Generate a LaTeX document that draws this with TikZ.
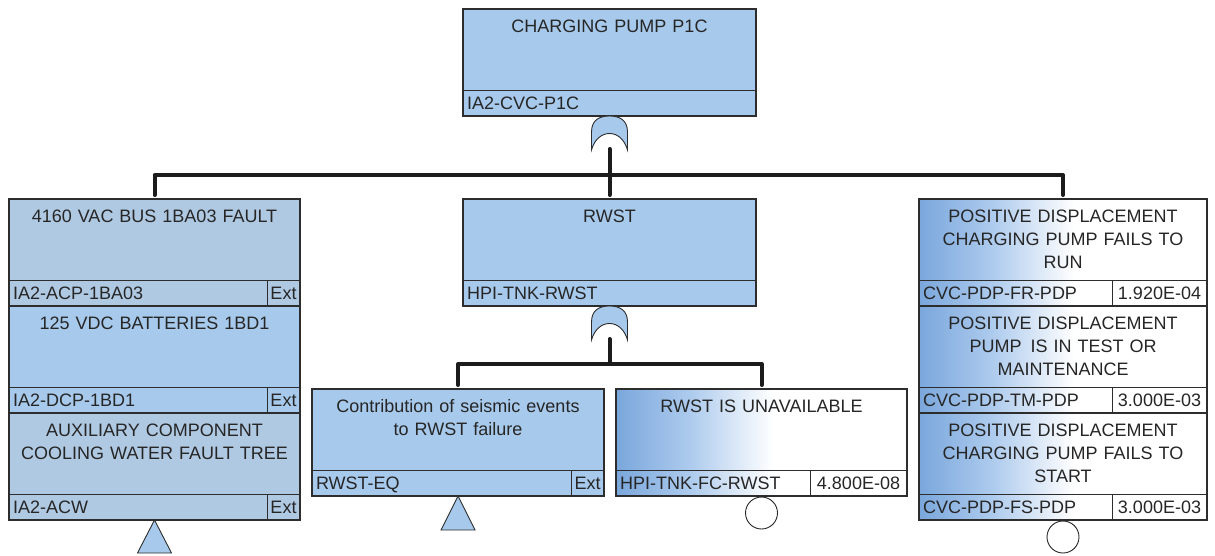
\documentclass[tikz,border=0pt]{standalone}
\usepackage{fontspec}
\setmainfont{Liberation Sans}
\usetikzlibrary{calc}
\definecolor{gbA}{RGB}{167,201,235}
\definecolor{gbB}{RGB}{176,201,227}
\definecolor{evblue}{RGB}{122,167,220}
\definecolor{evmid}{RGB}{172,202,237}
\definecolor{ink}{RGB}{38,38,38}
\definecolor{edge}{RGB}{45,45,45}
\definecolor{connc}{RGB}{28,28,28}
\pgfdeclarehorizontalshading{evshade}{100bp}{color(0bp)=(evblue); color(25bp)=(evblue); color(37.5bp)=(evmid); color(52bp)=(white); color(100bp)=(white)}
\newcommand\FTbox[9]{%
  \node[boxshape,#5,minimum width=#4pt,anchor=north west] (#1) at (#2,#3) {};
  \draw[divline] ([yshift=26pt]#1.south west) -- ([yshift=26pt]#1.south east);
  \draw[divline] ([xshift=-#9pt]#1.south east) -- ([xshift=-#9pt,yshift=26pt]#1.south east);
  \node[ftext,text width=#4pt,anchor=north] (#1-t) at ([yshift=-10.5pt]#1.north) {#6};
  \node[ftext,anchor=base west] (#1-i) at ([xshift=4pt,yshift=6.7pt]#1.south west) {#7};
  \node[ftext,anchor=base] (#1-v) at ([xshift=-#9pt/2,yshift=6.7pt]#1.south east) {#8};
}
\newcommand\ORgate[3]{%
  \filldraw[gatest] (#2-18,#3+34) -- (#2-18,#3+16) .. controls (#2-18,#3+4) and (#2-10,#3) .. (#2,#3)
    .. controls (#2+10,#3) and (#2+18,#3+4) .. (#2+18,#3+16) -- (#2+18,#3+34)
    .. controls (#2+12,#3+12) and (#2-12,#3+12) .. cycle;
  \coordinate (#1) at (#2,#3+33);
}
\begin{document}
\begin{tikzpicture}[x=1pt,y=-1pt,
  boxshape/.style={draw=edge,line width=1.3pt,rectangle,inner sep=0pt,outer sep=0pt,minimum height=107pt},
  divline/.style={draw=edge,line width=0.9pt},
  ftext/.style={inner sep=0pt,outer sep=0pt,align=center,text=ink,font=\fontsize{18pt}{23pt}\selectfont},
  gfillA/.style={fill=gbA},
  gfillB/.style={fill=gbB},
  evfill/.style={shading=evshade},
  gatest/.style={draw=edge,fill=gbA,line width=0.9pt},
  trist/.style={draw=edge,fill=gbA,line width=0.9pt,line join=miter},
  circst/.style={circle,draw=ink,fill=white,line width=0.9pt,minimum size=32pt,inner sep=0pt,outer sep=0pt},
  conn/.style={draw=connc,line width=4pt,line cap=round,line join=round}
]
\useasboundingbox (0,0) rectangle (1215,556);

% top gate
\FTbox{top}{463}{9}{293}{gfillA}{CHARGING PUMP P1C}{IA2-CVC-P1C}{}{0}
\ORgate{g1}{609.5}{116}

% left column (transfers)
\FTbox{lb1}{9}{199}{291}{gfillB}{4160 VAC BUS 1BA03 FAULT}{IA2-ACP-1BA03}{Ext}{33}
\FTbox{lb2}{9}{306}{291}{gfillA}{125 VDC BATTERIES 1BD1}{IA2-DCP-1BD1}{Ext}{33}
\FTbox{lb3}{9}{413}{291}{gfillB}{AUXILIARY COMPONENT\\COOLING WATER FAULT TREE}{IA2-ACW}{Ext}{33}
\filldraw[trist] (lb3.south) -- ++(17,33) -- ++(-34,0) -- cycle;

% middle
\FTbox{rwst}{463}{199}{293}{gfillA}{RWST}{HPI-TNK-RWST}{}{0}
\ORgate{g2}{609.5}{306}
\FTbox{cb}{312}{389}{292}{gfillA}{Contribution of seismic events\\to RWST failure}{RWST-EQ}{Ext}{33}
\filldraw[trist] (cb.south) -- ++(17,34) -- ++(-34,0) -- cycle;
\FTbox{ub}{616}{389}{291}{evfill}{RWST IS UNAVAILABLE}{HPI-TNK-FC-RWST}{4.800E-08}{97}
\node[circst,anchor=north] (c1) at ([yshift=-1pt]ub.south) {};

% right column
\FTbox{rb1}{919}{199}{288}{evfill}{POSITIVE DISPLACEMENT\\CHARGING PUMP FAILS TO\\RUN}{CVC-PDP-FR-PDP}{1.920E-04}{95}
\FTbox{rb2}{919}{306}{288}{evfill}{POSITIVE DISPLACEMENT\\PUMP\enspace IS IN TEST OR\\MAINTENANCE}{CVC-PDP-TM-PDP}{3.000E-03}{95}
\FTbox{rb3}{919}{413}{288}{evfill}{POSITIVE DISPLACEMENT\\CHARGING PUMP FAILS TO\\START}{CVC-PDP-FS-PDP}{3.000E-03}{95}
\node[circst,anchor=north] (c2) at ([yshift=-1pt]rb3.south) {};

% connectors
\coordinate (bus1) at (609.5,175);
\coordinate (bus2) at (609.5,364);
\draw[conn] (g1) -- ([yshift=4pt]rwst.north);
\draw[conn] ([yshift=4pt]lb1.north) -- (lb1.north |- bus1) -- (rb1.north |- bus1) -- ([yshift=4pt]rb1.north);
\draw[conn] (g2) -- (bus2);
\draw[conn] ([yshift=4pt]cb.north) -- (cb.north |- bus2) -- (ub.north |- bus2) -- ([yshift=4pt]ub.north);
\end{tikzpicture}
\end{document}
